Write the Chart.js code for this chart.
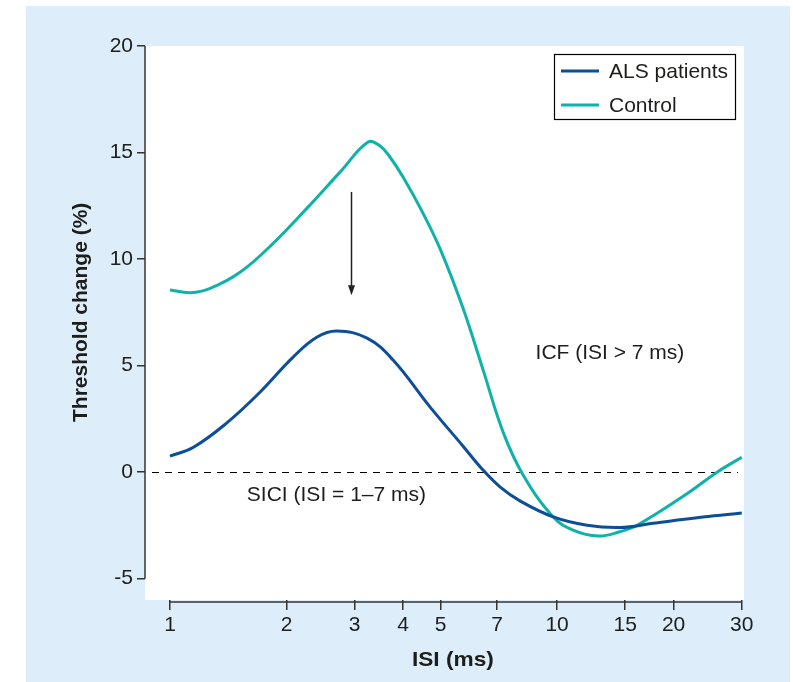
<!DOCTYPE html>
<html>
<head>
<meta charset="utf-8">
<script src="https://cdn.jsdelivr.net/npm/chart.js@4.4.0/dist/chart.umd.min.js"></script>
<style>
html, body { margin: 0; padding: 0; background: #ffffff; }
#panel { position: absolute; left: 26px; top: 6px; width: 764px; height: 676px; background: #ddeefa; }
</style>
</head>
<body>
<div id="panel"><canvas id="threshold_chart" width="764" height="676"></canvas></div>
<script>
// values (ISI in ms, threshold change in %)
const isi_als = [1, 1.15, 1.4, 1.71, 2.08, 2.4, 2.7, 3.23, 3.77, 4.7, 5.71, 6.4, 7.12, 8.02, 9.77, 11.95, 14.55, 17.7, 23.8, 30];
const change_als = [0.75, 1.17, 2.3, 3.76, 5.4, 6.34, 6.62, 6.29, 5.26, 3.05, 1.23, 0.15, -0.69, -1.35, -2.1, -2.49, -2.6, -2.4, -2.11, -1.92];

const isi_control = [1, 1.13, 1.27, 1.52, 1.85, 2.26, 2.75, 3.25, 3.49, 3.7, 4.0, 4.5, 5.0, 5.71, 6.44, 7.25, 8.17, 9.77, 11.0, 12.76, 14.5, 16.1, 21.7, 25.9, 30];
const change_control = [8.55, 8.42, 8.62, 9.39, 10.75, 12.39, 14.08, 15.49, 15.31, 14.79, 13.85, 12.17, 10.43, 7.71, 4.8, 1.89, -0.13, -2.1, -2.72, -3.0, -2.8, -2.49, -1.0, 0, 0.7];

const x_ticks = [1, 2, 3, 4, 5, 7, 10, 15, 20, 30];
const y_ticks = [-5, 0, 5, 10, 15, 20];

const series_labels = ['ALS patients', 'Control'];
const series_colors = ['#0c4e9a', '#0fb2a8'];

// notes written on the plot, in data units
const note_icf = { text: 'ICF (ISI > 7 ms)', x: 8.8, y: 5.6 };
const note_sici = { text: 'SICI (ISI = 1\u20137 ms)', x: 1.58, y: -1.1 };
const arrow_isi = 2.94, arrow_from = 13.15, arrow_to = 8.3;

const font_family = '"Liberation Sans", Arial, Helvetica, sans-serif';
const ink = '#1d1d1b';

function to_points(xs, ys) {
    return xs.map(function(x, i) { return { x: x, y: ys[i] }; });
}

const decor = {
    id: 'decor',
    beforeDraw: function(chart) {
        const ctx = chart.ctx, a = chart.chartArea;
        ctx.save();
        ctx.fillStyle = '#ffffff';
        ctx.fillRect(a.left, a.top, a.right - a.left, a.bottom - a.top);
        ctx.restore();
    },
    beforeDatasetsDraw: function(chart) {
        const ctx = chart.ctx, a = chart.chartArea, ys = chart.scales.y;
        const y0 = Math.round(ys.getPixelForValue(0)) + 0.5;
        ctx.save();
        ctx.strokeStyle = '#000';
        ctx.lineWidth = 1;
        ctx.setLineDash([7, 6]);
        ctx.beginPath();
        ctx.moveTo(a.left + 7, y0);
        ctx.lineTo(a.right - 6, y0);
        ctx.stroke();
        ctx.restore();
    },
    afterDraw: function(chart) {
        const ctx = chart.ctx, a = chart.chartArea;
        const xs = chart.scales.x, ys = chart.scales.y;
        ctx.save();

        // detached axis lines
        ctx.strokeStyle = '#333';
        ctx.lineWidth = 1.5;
        ctx.beginPath();
        ctx.moveTo(a.left, ys.getPixelForValue(y_ticks[0]));
        ctx.lineTo(a.left, ys.getPixelForValue(y_ticks[y_ticks.length - 1]));
        ctx.stroke();
        ctx.beginPath();
        ctx.moveTo(xs.getPixelForValue(x_ticks[0]), a.bottom + 2);
        ctx.lineTo(xs.getPixelForValue(x_ticks[x_ticks.length - 1]), a.bottom + 2);
        ctx.stroke();

        // arrow
        const ax = Math.round(xs.getPixelForValue(arrow_isi)) + 0.5;
        const ay1 = ys.getPixelForValue(arrow_from), ay2 = ys.getPixelForValue(arrow_to);
        ctx.strokeStyle = '#222';
        ctx.fillStyle = '#222';
        ctx.lineWidth = 1.5;
        ctx.beginPath();
        ctx.moveTo(ax, ay1);
        ctx.lineTo(ax, ay2 - 8);
        ctx.stroke();
        ctx.beginPath();
        ctx.moveTo(ax - 3.5, ay2 - 10);
        ctx.lineTo(ax + 3.5, ay2 - 10);
        ctx.lineTo(ax, ay2);
        ctx.closePath();
        ctx.fill();

        // notes
        ctx.fillStyle = ink;
        ctx.font = '21px ' + font_family;
        ctx.textAlign = 'left';
        ctx.textBaseline = 'middle';
        ctx.fillText(note_icf.text, xs.getPixelForValue(note_icf.x), ys.getPixelForValue(note_icf.y));
        ctx.fillText(note_sici.text, xs.getPixelForValue(note_sici.x), ys.getPixelForValue(note_sici.y));

        // axis titles
        ctx.font = 'bold 21px ' + font_family;
        ctx.textAlign = 'center';
        const xmid = (xs.getPixelForValue(x_ticks[0]) + xs.getPixelForValue(x_ticks[x_ticks.length - 1])) / 2;
        ctx.save();
        ctx.translate(xmid - 3, a.bottom + 60);
        ctx.scale(1.08, 1);
        ctx.fillText('ISI (ms)', 0, 0);
        ctx.restore();
        ctx.save();
        ctx.translate(a.left - 64, (ys.getPixelForValue(20) + ys.getPixelForValue(-5)) / 2);
        ctx.rotate(-Math.PI / 2);
        ctx.fillText('Threshold change (%)', 0, 0);
        ctx.restore();

        // legend box, top right inside the plot
        const bw = 181, bh = 65;
        const bx = a.right - 9 - bw, by = a.top + 8;
        ctx.strokeStyle = '#000';
        ctx.lineWidth = 1.2;
        ctx.strokeRect(bx + 0.5, by + 0.5, bw, bh);
        ctx.font = '21px ' + font_family;
        ctx.textAlign = 'left';
        chart.data.datasets.forEach(function(ds, i) {
            const ly = by + 17 + i * 34;
            ctx.strokeStyle = ds.borderColor;
            ctx.lineWidth = 3;
            ctx.beginPath();
            ctx.moveTo(bx + 7, ly);
            ctx.lineTo(bx + 45, ly);
            ctx.stroke();
            ctx.fillStyle = ink;
            ctx.fillText(ds.label, bx + 55, ly + 1);
        });
        ctx.restore();
    }
};

const ctx = document.getElementById('threshold_chart').getContext('2d');
const tick_font = { family: font_family, size: 21 };

const threshold_chart = new Chart(ctx, {
    type: 'line',
    data: {
        datasets: [{
            label: series_labels[0],
            data: to_points(isi_als, change_als),
            borderColor: series_colors[0],
            borderWidth: 3,
            tension: 0.4,
            pointRadius: 0,
            fill: false
        }, {
            label: series_labels[1],
            data: to_points(isi_control, change_control),
            borderColor: series_colors[1],
            borderWidth: 3,
            tension: 0.4,
            pointRadius: 0,
            fill: false
        }]
    },
    options: {
        responsive: false,
        animation: false,
        devicePixelRatio: 1,
        layout: { padding: { left: 0, top: 40, right: 46, bottom: 0 } },
        plugins: {
            legend: { display: false },
            tooltip: { enabled: false }
        },
        scales: {
            x: {
                type: 'logarithmic',
                bounds: 'data',
                min: 0.862,
                max: 30.4,
                afterBuildTicks: function(scale) {
                    scale.ticks = x_ticks.map(function(v) { return { value: v }; });
                },
                afterFit: function(scale) { scale.height = 82; },
                border: { display: false },
                grid: { drawOnChartArea: false, drawTicks: true, tickLength: 10, color: '#333', lineWidth: 1.5 },
                ticks: {
                    autoSkip: false,
                    maxRotation: 0,
                    padding: 3,
                    color: ink,
                    font: tick_font,
                    callback: function(value) { return String(value); }
                }
            },
            y: {
                bounds: 'data',
                min: -6,
                max: 20,
                afterBuildTicks: function(scale) {
                    scale.ticks = y_ticks.map(function(v) { return { value: v }; });
                },
                afterFit: function(scale) { scale.width = 119; },
                border: { display: false },
                grid: { drawOnChartArea: false, drawTicks: true, tickLength: 8, color: '#333', lineWidth: 1.5 },
                ticks: {
                    padding: 4,
                    color: ink,
                    font: tick_font,
                    callback: function(value) { return String(value); }
                }
            }
        }
    },
    plugins: [decor]
});
</script>
</body>
</html>
